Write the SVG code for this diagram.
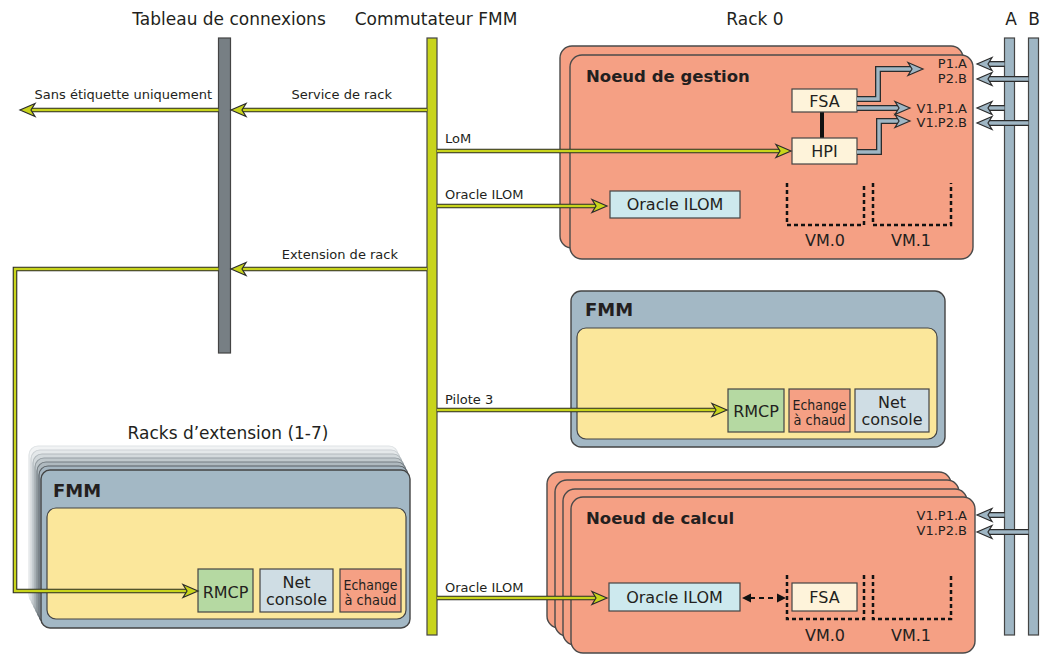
<svg xmlns="http://www.w3.org/2000/svg" xmlns:xlink="http://www.w3.org/1999/xlink" width="1043" height="654" viewBox="0 0 1043 654">
  <style>
    text { font-family: "DejaVu Sans", "Liberation Sans", sans-serif; fill: #231f20; }
    .title { font-size: 17px; text-anchor: middle; }
    .lbl { font-size: 13px; }
    .port { font-size: 13px; text-anchor: end; }
    .head { font-size: 16.5px; font-weight: bold; }
    .fmm { font-size: 18px; font-weight: bold; }
    .bx { font-size: 16px; text-anchor: middle; }
    .bxn { font-size: 14.5px; text-anchor: middle; font-family: "DejaVu Sans Condensed", "DejaVu Sans", sans-serif; }
    .vm { font-size: 16px; text-anchor: middle; }
    .plate { fill: #f5a084; stroke: #4a4a4a; stroke-width: 1.4; }
    .fmmplate { fill: #a3b8c5; stroke: #444; stroke-width: 1.4; }
    .inner { fill: #fbe79b; stroke: #444; stroke-width: 1.2; }
    .rmcp { fill: #b5d9a2; stroke: #444; stroke-width: 1.2; }
    .hot { fill: #f5a084; stroke: #444; stroke-width: 1.2; }
    .net { fill: #cfdde4; stroke: #444; stroke-width: 1.2; }
    .ilom { fill: #cde9ee; stroke: #444; stroke-width: 1.2; }
    .fsa { fill: #fef3da; stroke: #444; stroke-width: 1.2; }
    .vmb { fill: none; stroke: #111; stroke-width: 2.5; stroke-dasharray: 4 3; }
    .yo { fill: none; stroke: #2b2b2b; stroke-width: 4.6; stroke-linejoin: miter; }
    .yi { fill: none; stroke: #c8d41c; stroke-width: 2.4; stroke-linejoin: miter; }
    .bo { fill: none; stroke: #2b2b2b; stroke-width: 6; stroke-linejoin: miter; }
    .bi { fill: none; stroke: #9fb6c4; stroke-width: 3.4; stroke-linejoin: miter; }
    .bar { stroke: #444; stroke-width: 1.2; }
  </style>
  <defs>
    <path id="ahY" d="M0,0 L-15,-6.5 L-11,0 L-15,6.5 Z" fill="#c8d41c" stroke="#2b2b2b" stroke-width="1.2" stroke-linejoin="miter"/>
    <path id="ahB" d="M0,0 L-15,-6.5 L-11,0 L-15,6.5 Z" fill="#9fb6c4" stroke="#2b2b2b" stroke-width="1.2" stroke-linejoin="miter"/>
    <path id="ahK" d="M0,0 L-9,-4.5 L-9,4.5 Z" fill="#111"/>
  </defs>

  <rect width="1043" height="654" fill="#ffffff"/>

  <!-- column headings -->
  <g id="headings">
    <text class="title" x="229" y="25">Tableau de connexions</text>
    <text class="title" x="436" y="25">Commutateur FMM</text>
    <text class="title" x="755" y="25">Rack 0</text>
    <text class="title" x="1011" y="25">A</text>
    <text class="title" x="1034" y="25">B</text>
  </g>

  <!-- patch panel -->
  <g id="tableau">
    <rect class="bar" x="218.5" y="38" width="12" height="315" fill="#777f84"/>
  </g>

  <!-- FMM switch bus -->
  <g id="commutateur">
    <rect class="bar" x="427" y="38" width="10" height="597" fill="#c8d41c"/>
  </g>

  <!-- A / B network buses -->
  <g id="bus-a">
    <rect class="bar" x="1004.5" y="38" width="10" height="597" fill="#9fb6c4"/>
  </g>
  <g id="bus-b">
    <rect class="bar" x="1028.5" y="38" width="10" height="597" fill="#9fb6c4"/>
  </g>

  <!-- Rack 0: management node -->
  <g id="noeud-gestion">
    <rect class="plate" x="560" y="46" width="403" height="202" rx="12"/>
    <rect class="plate" x="570" y="55" width="403" height="204" rx="12"/>
    <text class="head" x="586" y="82">Noeud de gestion</text>
    <line x1="822" y1="111" x2="822" y2="138" stroke="#111" stroke-width="4"/>
    <g id="g-fsa">
      <rect class="fsa" x="792" y="89" width="65" height="23"/>
      <text class="bx" x="824.5" y="107">FSA</text>
    </g>
    <g id="g-hpi">
      <rect class="fsa" x="792" y="138" width="65" height="26"/>
      <text class="bx" x="824.5" y="157">HPI</text>
    </g>
    <g id="g-ilom">
      <rect class="ilom" x="610" y="191" width="130" height="27"/>
      <text class="bx" x="675" y="210">Oracle ILOM</text>
    </g>
    <path class="vmb" d="M787,183 V225 H864 V183"/>
    <path class="vmb" d="M873,183 V225 H951 V183"/>
    <text class="vm" x="825" y="246">VM.0</text>
    <text class="vm" x="911" y="246">VM.1</text>
    <text class="port" x="967" y="68">P1.A</text>
    <text class="port" x="967" y="83">P2.B</text>
    <text class="port" x="967" y="113">V1.P1.A</text>
    <text class="port" x="967" y="127">V1.P2.B</text>
  </g>

  <!-- Rack 0: FMM -->
  <g id="fmm-rack0">
    <rect class="fmmplate" x="571" y="291" width="374" height="156" rx="10"/>
    <text class="fmm" x="585" y="316">FMM</text>
    <rect class="inner" x="577" y="328" width="360" height="111" rx="9"/>
    <rect class="rmcp" x="728" y="389" width="56" height="43"/>
    <text class="bx" x="756" y="417">RMCP</text>
    <rect class="hot" x="789" y="389" width="61" height="43"/>
    <text class="bxn" x="819.5" y="410" textLength="54" lengthAdjust="spacingAndGlyphs">Echange</text>
    <text class="bxn" x="819.5" y="425" textLength="52" lengthAdjust="spacingAndGlyphs">à chaud</text>
    <rect class="net" x="855" y="389" width="74" height="43"/>
    <text class="bx" x="892" y="408">Net</text>
    <text class="bx" x="892" y="425">console</text>
  </g>

  <!-- Rack 0: compute nodes (stacked) -->
  <g id="noeud-calcul">
    <rect class="plate" x="547" y="472" width="404" height="156" rx="12"/>
    <rect class="plate" x="555" y="480" width="404" height="156" rx="12"/>
    <rect class="plate" x="563" y="489" width="404" height="156" rx="12"/>
    <rect class="plate" x="571" y="497" width="404" height="156" rx="12"/>
    <text class="head" x="586" y="524">Noeud de calcul</text>
    <text class="port" x="967" y="520">V1.P1.A</text>
    <text class="port" x="967" y="535">V1.P2.B</text>
    <g id="c-ilom">
      <rect class="ilom" x="609" y="583" width="131" height="28"/>
      <text class="bx" x="674.5" y="603">Oracle ILOM</text>
    </g>
    <path class="vmb" d="M787,575 V619 H864 V575"/>
    <path class="vmb" d="M873,575 V619 H951 V575"/>
    <g id="c-fsa">
      <rect class="fsa" x="792" y="583" width="65" height="28"/>
      <text class="bx" x="824.5" y="603">FSA</text>
    </g>
    <text class="vm" x="825" y="641">VM.0</text>
    <text class="vm" x="911" y="641">VM.1</text>
  </g>

  <!-- expansion racks 1-7 (stacked) -->
  <g id="racks-extension">
    <text class="title" x="228" y="439">Racks d’extension (1-7)</text>
    <rect x="29" y="446" width="369" height="158" rx="9" fill="#f1f3f4" stroke="#dfe3e5" stroke-width="1.2"/>
    <rect x="31" y="450" width="369" height="158" rx="9" fill="#e4e8ea" stroke="#cdd2d5" stroke-width="1.2"/>
    <rect x="33" y="454" width="369" height="158" rx="9" fill="#d3d9dc" stroke="#b3babe" stroke-width="1.2"/>
    <rect x="35" y="458" width="369" height="158" rx="9" fill="#c0c8cc" stroke="#959ea3" stroke-width="1.2"/>
    <rect x="37" y="462" width="369" height="158" rx="9" fill="#afb9bf" stroke="#747d82" stroke-width="1.2"/>
    <rect x="39" y="466" width="369" height="158" rx="9" fill="#a5b5c0" stroke="#5a6166" stroke-width="1.2"/>
    <rect class="fmmplate" x="41" y="470" width="369" height="158" rx="9"/>
    <text class="fmm" x="53" y="497">FMM</text>
    <rect class="inner" x="47" y="508" width="359" height="111" rx="9"/>
    <rect class="rmcp" x="198" y="569" width="55" height="43"/>
    <text class="bx" x="225.5" y="598">RMCP</text>
    <rect class="net" x="260" y="569" width="73" height="43"/>
    <text class="bx" x="296.5" y="588">Net</text>
    <text class="bx" x="296.5" y="605">console</text>
    <rect class="hot" x="340" y="569" width="61" height="43"/>
    <text class="bxn" x="370.5" y="590" textLength="54" lengthAdjust="spacingAndGlyphs">Echange</text>
    <text class="bxn" x="370.5" y="605" textLength="52" lengthAdjust="spacingAndGlyphs">à chaud</text>
  </g>

  <!-- connectors -->
  <g id="connectors">
    <!-- FMM switch links (yellow) -->
    <g id="l-service">
      <path class="yo" d="M427,110 H242"/><path class="yi" d="M427,110 H242"/>
      <use xlink:href="#ahY" transform="translate(231,110) rotate(180)"/>
      <text class="lbl" x="392" y="99" text-anchor="end">Service de rack</text>
    </g>
    <g id="l-sans">
      <path class="yo" d="M218.5,110 H31"/><path class="yi" d="M218.5,110 H31"/>
      <use xlink:href="#ahY" transform="translate(20,110) rotate(180)"/>
      <text class="lbl" x="212" y="99" text-anchor="end">Sans étiquette uniquement</text>
    </g>
    <g id="l-extension">
      <path class="yo" d="M427,269 H242"/><path class="yi" d="M427,269 H242"/>
      <use xlink:href="#ahY" transform="translate(231,269) rotate(180)"/>
      <text class="lbl" x="398" y="259" text-anchor="end">Extension de rack</text>
    </g>
    <g id="l-extension-rmcp">
      <path class="yo" d="M218.5,269 H15 V591 H187"/><path class="yi" d="M218.5,269 H15 V591 H187"/>
      <use xlink:href="#ahY" transform="translate(198,591)"/>
    </g>
    <g id="l-lom">
      <path class="yo" d="M437,151 H780"/><path class="yi" d="M437,151 H780"/>
      <use xlink:href="#ahY" transform="translate(791,151)"/>
      <text class="lbl" x="445" y="143">LoM</text>
    </g>
    <g id="l-ilom">
      <path class="yo" d="M437,206 H596"/><path class="yi" d="M437,206 H596"/>
      <use xlink:href="#ahY" transform="translate(607,206)"/>
      <text class="lbl" x="445" y="199">Oracle ILOM</text>
    </g>
    <g id="l-pilote">
      <path class="yo" d="M437,410 H716"/><path class="yi" d="M437,410 H716"/>
      <use xlink:href="#ahY" transform="translate(727,410)"/>
      <text class="lbl" x="445" y="404">Pilote 3</text>
    </g>
    <g id="l-ilom-calcul">
      <path class="yo" d="M437,598 H596"/><path class="yi" d="M437,598 H596"/>
      <use xlink:href="#ahY" transform="translate(607,598)"/>
      <text class="lbl" x="445" y="592">Oracle ILOM</text>
    </g>

    <!-- internal links of the management node (blue) -->
    <g id="l-fsa-p">
      <path class="bo" d="M857,99 H878 V69 H912"/><path class="bi" d="M857,99 H878 V69 H912"/>
      <use xlink:href="#ahB" transform="translate(923,69)"/>
    </g>
    <g id="l-fsa-v">
      <path class="bo" d="M857,108 H899"/><path class="bi" d="M857,108 H899"/>
      <use xlink:href="#ahB" transform="translate(910,108)"/>
    </g>
    <g id="l-hpi-v">
      <path class="bo" d="M857,152 H879 V121 H899"/><path class="bi" d="M857,152 H879 V121 H899"/>
      <use xlink:href="#ahB" transform="translate(910,121)"/>
    </g>

    <!-- A / B bus links (blue) -->
    <g id="l-a-p1">
      <path class="bo" d="M1004.5,64 H988"/><path class="bi" d="M1004.5,64 H988"/>
      <use xlink:href="#ahB" transform="translate(977,64) rotate(180)"/>
    </g>
    <g id="l-b-p2">
      <path class="bo" d="M1028.5,79 H988"/><path class="bi" d="M1028.5,79 H988"/>
      <use xlink:href="#ahB" transform="translate(977,79) rotate(180)"/>
    </g>
    <g id="l-a-v1p1">
      <path class="bo" d="M1004.5,108 H988"/><path class="bi" d="M1004.5,108 H988"/>
      <use xlink:href="#ahB" transform="translate(977,108) rotate(180)"/>
    </g>
    <g id="l-b-v1p2">
      <path class="bo" d="M1028.5,123 H988"/><path class="bi" d="M1028.5,123 H988"/>
      <use xlink:href="#ahB" transform="translate(977,123) rotate(180)"/>
    </g>
    <g id="l-a-calc-v1p1">
      <path class="bo" d="M1004.5,515 H988"/><path class="bi" d="M1004.5,515 H988"/>
      <use xlink:href="#ahB" transform="translate(977,515) rotate(180)"/>
    </g>
    <g id="l-b-calc-v1p2">
      <path class="bo" d="M1028.5,532 H988"/><path class="bi" d="M1028.5,532 H988"/>
      <use xlink:href="#ahB" transform="translate(977,532) rotate(180)"/>
    </g>

    <!-- ILOM to FSA link (dashed, both ways) -->
    <g id="l-ilom-fsa">
      <path d="M750,598 H777" fill="none" stroke="#111" stroke-width="2" stroke-dasharray="5 4"/>
      <use xlink:href="#ahK" transform="translate(742,598) rotate(180)"/>
      <use xlink:href="#ahK" transform="translate(786,598)"/>
    </g>
  </g>
</svg>
